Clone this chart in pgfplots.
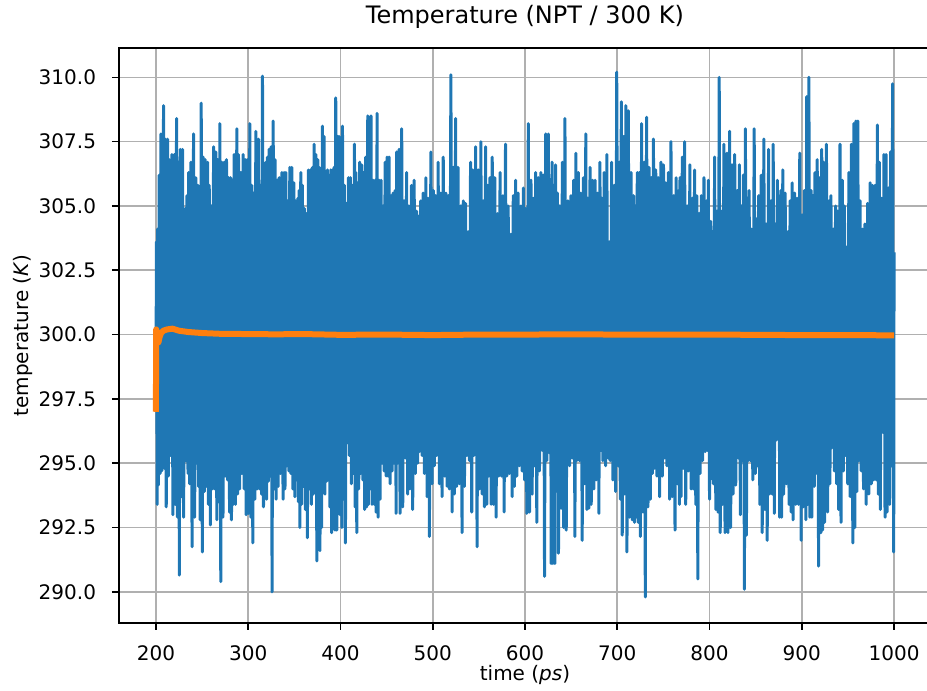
\documentclass[border=0pt]{standalone}
\usepackage{fontspec}
\setmainfont{DejaVu Sans}
\usepackage{pgfplots}
\pgfplotsset{compat=1.18}
\definecolor{mplblue}{HTML}{1F77B4}
\definecolor{mplorange}{HTML}{FF7F0E}
\definecolor{gridgray}{HTML}{B0B0B0}
\begin{document}
\begin{tikzpicture}
\begin{axis}[
  name=ax,
  at={(0,0)}, anchor=south west,
  scale only axis, width=406pt, height=287.35pt,
  xmin=160, xmax=1040, ymin=288.8, ymax=311.14,
  xtick={200,300,400,500,600,700,800,900,1000},
  ytick={290,292.5,295,297.5,300,302.5,305,307.5,310},
  scaled ticks=false,
  /pgf/number format/assume math mode=true,
  xticklabel style={/pgf/number format/1000 sep={}, anchor=base, yshift=-15.3pt, inner sep=0pt},
  yticklabel style={/pgf/number format/fixed, /pgf/number format/fixed zerofill, /pgf/number format/precision=1, anchor=east, xshift=-7.8pt, inner sep=0pt},
  tick align=outside, tick pos=left, major tick length=3.5pt,
  every tick/.style={black, line width=0.8pt},
  axis line style={draw=none},
  grid=major, major grid style={gridgray, line width=0.8pt},
  title={Temperature (NPT / 300 K)},
  title style={at={(axis description cs:0.5,1.0209)}, anchor=base, font=\fontsize{12}{14}\selectfont, inner sep=0pt},
  xlabel={time (\textit{ps})},
  ylabel={temperature (\textit{K})},
  every axis x label/.style={at={(axis description cs:0.5,-0.0997)}, anchor=base, inner sep=0pt},
  every axis y label/.style={at={(axis description cs:-0.1115,0.5)}, rotate=90, anchor=base, inner sep=0pt},
]
\addplot[mplblue, line width=1.5pt, line join=round] table[header=false, x index=0, y index=1, row sep=\\] {
200.0 297.0\\
200.6 303.6\\ 201.4 293.4\\ 201.8 304.1\\ 202.7 294.15\\ 203.6 306.2\\ 204.5 294.6\\ 205.4 307.8\\ 206.4 294.7\\
208.3 308.9\\ 209.3 294.8\\ 210.1 307.6\\ 211.2 293.3\\ 212.6 307.6\\ 213.5 294.5\\ 214.4 306.8\\ 215.8 295.3\\
217.3 307.0\\ 218.4 293.0\\ 219.9 307.0\\ 221.0 293.4\\ 222.4 308.4\\ 223.4 292.9\\ 224.5 306.7\\ 225.4 290.65\\
226.4 307.2\\ 227.6 293.7\\ 228.9 307.2\\ 230.0 292.9\\ 231.8 304.9\\ 232.7 295.1\\ 233.6 305.4\\ 234.8 294.6\\
235.4 306.3\\ 236.6 294.2\\ 237.9 306.7\\ 239.2 291.75\\ 240.8 307.8\\ 242.0 292.9\\ 243.3 306.1\\ 244.3 295.0\\
245.5 305.8\\ 246.2 294.1\\ 246.9 305.7\\ 248.0 292.8\\ 249.1 309.0\\ 250.3 291.55\\ 251.3 306.9\\ 252.4 293.9\\
253.4 306.8\\ 254.7 294.1\\ 256.0 306.7\\ 256.9 293.4\\ 257.8 305.8\\ 259.0 292.6\\ 260.3 305.0\\ 261.4 294.0\\
262.5 307.3\\ 263.7 294.0\\ 265.0 307.1\\ 266.0 292.8\\ 267.1 306.8\\ 268.2 293.5\\ 269.3 308.2\\ 270.3 290.4\\
271.5 306.7\\ 272.7 292.9\\ 274.0 306.7\\ 275.2 294.5\\ 276.5 306.8\\ 277.6 294.35\\ 278.7 306.1\\ 279.8 293.1\\
280.9 306.1\\ 281.9 292.8\\ 283.0 306.0\\ 283.9 293.4\\ 284.8 307.0\\ 286.2 293.4\\ 287.7 308.0\\ 288.6 293.8\\
289.5 307.0\\ 290.8 294.0\\ 292.1 306.3\\ 293.3 294.6\\ 294.6 307.0\\ 295.7 294.0\\ 296.8 306.8\\ 297.8 293.0\\
298.9 306.8\\ 300.3 293.05\\ 301.8 308.2\\ 302.9 292.9\\ 304.0 305.8\\ 305.0 291.9\\ 306.1 305.5\\ 307.2 293.6\\
308.3 307.9\\ 309.7 294.0\\ 311.2 307.6\\ 312.3 294.0\\ 313.4 305.8\\ 314.5 293.8\\ 315.5 310.05\\ 316.6 293.3\\
317.7 304.3\\ 318.4 294.0\\ 319.1 306.7\\ 320.0 293.6\\ 320.9 306.9\\ 321.8 294.3\\ 322.7 307.2\\ 323.8 294.5\\
324.9 307.3\\ 325.9 290.0\\ 327.1 308.3\\ 328.2 294.0\\ 329.2 306.8\\ 330.3 293.6\\ 331.4 306.0\\ 332.5 294.1\\
333.6 306.1\\ 335.0 294.6\\ 336.5 306.3\\ 337.8 293.6\\ 339.0 306.3\\ 339.9 294.0\\ 340.8 306.3\\ 341.9 294.9\\
343.0 305.2\\ 344.1 294.7\\ 345.1 306.5\\ 346.2 294.6\\ 347.3 306.5\\ 348.4 294.0\\ 349.5 305.9\\ 350.6 293.7\\
351.6 305.2\\ 352.7 294.35\\ 353.8 305.3\\ 354.5 293.5\\ 355.2 305.6\\ 356.1 292.5\\ 357.0 306.3\\ 357.9 293.4\\
358.8 305.8\\ 359.9 294.1\\ 361.0 304.9\\ 362.1 293.2\\ 363.2 304.7\\ 364.2 292.1\\ 365.3 306.4\\ 366.4 294.0\\
367.5 306.4\\ 368.6 293.4\\ 369.7 306.5\\ 370.6 293.8\\ 371.5 307.4\\ 372.4 294.6\\ 373.3 307.0\\ 374.4 291.2\\
375.5 306.8\\ 376.2 292.6\\ 376.9 306.5\\ 377.8 291.6\\ 378.7 306.1\\ 379.6 292.5\\ 380.5 308.1\\ 381.4 294.1\\
382.3 307.7\\ 383.2 293.8\\ 384.1 306.3\\ 385.0 294.3\\ 385.9 306.4\\ 386.8 294.6\\ 387.7 305.1\\ 388.6 293.3\\
389.5 306.4\\ 390.4 292.3\\ 391.3 306.4\\ 392.2 293.0\\ 393.1 306.5\\ 394.0 292.4\\ 394.9 309.2\\ 396.0 292.4\\
397.1 307.7\\ 397.9 293.6\\ 398.6 307.7\\ 399.6 293.0\\ 400.7 307.4\\ 401.5 292.5\\ 402.2 308.1\\ 403.2 293.6\\
404.3 305.8\\ 405.4 291.9\\ 406.5 305.1\\ 407.6 295.8\\ 408.7 306.1\\ 409.7 295.3\\ 410.8 306.1\\ 411.9 294.2\\
413.0 305.8\\ 414.1 294.6\\ 415.2 307.4\\ 415.9 293.3\\ 416.6 306.3\\ 417.7 292.3\\ 418.8 305.9\\ 419.8 294.0\\
420.9 306.7\\ 422.0 294.6\\ 423.1 306.6\\ 424.2 294.35\\ 425.3 306.3\\ 426.3 293.2\\ 427.4 306.9\\ 428.5 293.3\\
429.6 308.5\\ 430.3 293.4\\ 431.0 306.9\\ 432.1 294.0\\ 433.2 308.5\\ 434.3 293.4\\ 435.4 306.0\\ 436.5 293.4\\
437.5 306.0\\ 438.6 293.1\\ 439.7 308.6\\ 440.8 292.9\\ 441.9 306.0\\ 443.0 293.6\\ 444.0 306.0\\ 445.1 295.0\\
446.2 305.0\\ 447.3 294.7\\ 448.4 306.7\\ 449.5 294.5\\ 450.5 306.9\\ 451.6 294.5\\ 452.7 306.9\\ 453.8 294.2\\
454.9 305.4\\ 456.0 294.7\\ 457.0 305.5\\ 458.1 295.0\\ 459.2 305.6\\ 460.3 293.05\\
461.0 307.1\\ 462.0 295.0\\ 463.6 307.2\\ 464.6 293.05\\ 466.4 308.0\\ 467.5 293.3\\ 469.0 305.2\\ 470.3 295.2\\
471.7 306.3\\ 472.9 293.8\\ 474.2 305.0\\ 475.4 294.0\\ 476.9 305.8\\ 478.3 293.2\\ 479.9 306.0\\ 481.2 294.6\\
482.5 304.8\\ 483.7 295.0\\ 484.6 304.6\\ 485.5 295.45\\ 487.0 305.2\\ 488.4 295.3\\ 489.6 305.5\\ 491.0 294.6\\
492.6 306.1\\ 493.9 293.7\\ 495.1 305.3\\ 496.4 292.15\\ 498.0 307.1\\ 499.3 294.2\\ 500.6 305.6\\ 501.8 294.9\\
503.0 305.4\\ 504.3 295.3\\ 505.9 306.7\\ 507.2 294.2\\ 508.7 305.5\\ 510.1 293.7\\ 511.4 306.9\\ 513.0 294.5\\
514.3 305.5\\ 515.6 294.1\\ 516.8 305.4\\ 518.1 294.0\\ 519.7 310.1\\ 521.0 293.1\\ 522.2 306.5\\ 523.5 293.8\\
524.8 308.4\\ 526.0 294.1\\ 527.5 306.5\\ 528.9 294.2\\ 530.4 305.0\\ 531.8 292.3\\ 533.1 305.2\\ 534.4 294.1\\
535.6 305.1\\ 536.9 295.3\\ 538.4 304.0\\ 539.8 295.1\\ 541.0 306.7\\ 542.3 293.1\\ 543.3 306.4\\ 544.6 295.3\\
546.5 307.3\\ 548.1 291.75\\ 549.3 306.4\\ 550.6 294.0\\ 552.2 307.5\\ 553.5 293.8\\ 554.8 305.2\\ 556.1 293.3\\
557.3 307.3\\ 558.6 293.4\\ 559.7 305.8\\ 560.8 294.5\\ 562.0 306.1\\ 563.3 293.4\\ 564.5 306.9\\ 565.8 293.4\\
567.3 306.1\\ 568.7 292.9\\ 570.2 304.7\\ 571.6 294.5\\ 573.0 306.3\\ 574.5 294.5\\ 576.0 305.4\\ 577.4 293.1\\
578.9 307.4\\ 580.3 294.5\\ 581.8 305.0\\ 583.2 294.6\\ 584.7 303.9\\ 586.1 293.7\\ 587.3 305.4\\ 588.6 294.1\\
589.8 306.0\\ 591.1 294.5\\ 592.6 305.5\\ 594.0 294.9\\ 595.5 305.0\\ 596.9 294.7\\ 598.2 305.7\\ 599.5 294.35\\
600.7 304.9\\ 602.0 293.05\\ 603.6 308.2\\ 604.9 293.1\\ 606.5 306.0\\ 607.8 293.8\\ 609.0 305.3\\ 610.3 294.9\\
611.5 306.3\\ 612.8 292.7\\ 614.4 306.1\\ 615.7 294.7\\ 617.3 306.3\\ 618.6 295.5\\ 619.9 306.2\\ 621.2 290.6\\
622.5 307.8\\ 623.7 295.1\\ 625.3 307.8\\ 626.6 295.4\\ 627.5 305.6\\ 628.4 291.1\\ 629.3 306.7\\ 630.2 291.1\\
631.3 305.2\\ 632.4 291.1\\ 633.1 306.6\\ 634.2 295.5\\ 635.2 305.5\\ 636.3 291.5\\ 637.8 305.0\\ 639.2 293.25\\
640.5 306.7\\ 641.8 292.5\\ 643.3 308.4\\ 644.7 292.4\\ 646.5 305.2\\ 648.3 294.9\\ 649.8 305.4\\ 651.2 295.2\\
652.7 306.0\\ 654.1 292.15\\ 655.2 307.05\\ 656.2 295.1\\ 657.8 306.3\\ 659.1 295.1\\ 660.5 305.5\\ 662.0 292.0\\
663.3 306.1\\ 664.6 294.2\\ 665.9 307.8\\ 667.1 293.2\\ 668.2 305.3\\ 669.3 293.25\\ 670.5 306.5\\ 671.8 293.4\\
673.3 306.0\\ 674.7 294.0\\ 676.0 306.0\\ 677.2 294.35\\ 678.6 305.5\\ 680.1 293.05\\ 681.2 306.7\\ 682.3 295.5\\
683.4 305.3\\ 684.4 295.1\\ 685.8 306.3\\ 687.3 294.9\\ 688.7 307.0\\ 690.2 295.2\\ 691.3 303.6\\ 692.4 295.1\\
693.9 306.7\\ 695.3 294.35\\ 696.8 305.8\\ 698.2 293.9\\ 699.4 310.2\\ 701.1 294.9\\ 702.2 306.7\\ 703.3 293.6\\
704.4 309.05\\ 705.4 292.2\\ 706.7 307.7\\ 708.0 293.8\\ 709.3 308.9\\ 710.5 291.55\\ 712.0 308.7\\ 713.4 292.9\\
714.9 306.3\\ 716.3 292.8\\ 717.6 305.4\\ 718.8 292.7\\ 719.7 305.0\\ 720.6 292.9\\ 721.7 306.3\\ 722.8 292.7\\
723.9 306.3\\ 725.0 292.15\\ 726.4 308.2\\ 727.8 293.1\\ 729.1 306.7\\ 730.4 289.8\\ 731.8 308.45\\ 733.3 293.3\\
734.5 306.5\\ 735.8 293.6\\ 736.9 306.1\\ 738.0 294.6\\ 739.2 307.6\\ 740.5 294.8\\ 741.7 306.4\\ 743.0 294.5\\
744.5 306.1\\ 745.9 293.7\\ 747.4 306.7\\ 748.8 294.5\\ 750.1 306.6\\ 751.4 295.2\\ 752.6 305.9\\ 753.9 294.9\\
755.4 306.3\\ 756.8 293.6\\ 758.2 307.5\\ 759.7 293.7\\ 761.2 305.4\\ 762.6 292.4\\ 763.8 306.1\\ 765.1 294.2\\
766.4 305.6\\ 767.4 293.4\\
768.0 306.1\\ 769.1 293.7\\ 770.5 306.9\\ 771.6 294.8\\ 773.0 307.5\\ 774.2 293.4\\ 775.8 305.0\\ 777.1 294.7\\
778.7 306.6\\ 780.0 294.0\\ 781.3 305.3\\ 782.5 294.0\\ 783.8 306.4\\ 785.1 293.4\\ 786.3 305.4\\ 787.3 290.5\\
788.6 304.7\\ 789.8 294.6\\ 791.1 305.4\\ 792.4 295.1\\ 794.0 306.1\\ 795.3 295.45\\ 796.9 305.2\\ 797.8 295.5\\
798.7 306.0\\ 800.0 293.6\\ 801.3 304.4\\ 802.5 294.4\\ 803.3 304.0\\ 804.3 294.2\\ 805.5 306.9\\ 806.8 293.2\\
808.0 304.8\\ 809.2 293.1\\ 810.5 310.0\\ 811.6 292.3\\ 812.7 304.8\\ 814.0 293.4\\ 815.6 307.4\\ 816.8 292.3\\
818.9 307.05\\ 820.0 292.3\\ 821.8 307.9\\ 822.9 292.5\\ 824.4 306.6\\ 825.5 293.8\\ 827.3 307.0\\ 828.4 294.15\\
830.2 305.6\\ 831.3 295.2\\ 832.3 306.6\\ 833.4 293.0\\ 834.4 305.0\\ 835.5 295.1\\ 836.7 306.2\\ 837.8 290.1\\
838.9 308.0\\ 840.0 292.2\\ 841.0 305.3\\ 841.9 295.1\\ 842.9 305.6\\ 844.4 295.1\\ 845.5 304.1\\ 846.9 294.35\\
848.4 308.0\\ 849.8 294.6\\ 850.9 304.5\\ 852.0 294.9\\ 853.3 305.4\\ 854.5 293.4\\ 856.0 306.2\\ 857.1 292.3\\
858.9 307.6\\ 860.0 293.2\\ 861.3 304.3\\ 862.5 292.0\\ 864.0 307.2\\ 865.1 293.8\\ 866.8 305.2\\ 868.0 293.8\\
869.0 307.4\\ 870.2 293.05\\ 871.3 304.3\\ 872.4 295.9\\ 873.5 306.0\\ 874.5 296.1\\ 875.2 305.0\\ 876.0 292.9\\
877.2 305.6\\ 878.2 292.9\\ 879.4 306.4\\ 880.4 293.8\\ 882.0 305.5\\ 883.3 294.2\\ 885.0 304.0\\ 886.2 293.4\\
887.3 305.2\\ 888.4 293.1\\ 889.6 305.9\\ 890.5 292.8\\ 892.2 305.5\\ 893.5 293.4\\ 895.0 305.3\\ 896.4 293.4\\
897.8 307.05\\ 899.3 292.0\\ 900.3 304.65\\ 901.5 293.3\\ 902.8 305.6\\ 904.4 292.8\\ 905.3 309.25\\ 906.5 293.4\\
907.7 310.0\\ 908.7 292.9\\ 910.0 305.6\\ 910.9 292.9\\ 912.2 305.4\\ 913.5 294.1\\ 914.3 306.3\\ 915.3 294.6\\
916.7 306.8\\ 918.2 291.0\\ 919.3 306.1\\ 920.7 292.3\\ 921.6 307.2\\ 922.5 292.4\\ 923.6 306.7\\ 924.7 292.7\\
926.7 307.4\\ 928.0 293.1\\ 929.5 305.2\\ 930.5 294.2\\ 931.6 305.4\\ 932.7 295.6\\ 934.1 304.1\\ 935.3 294.7\\
936.6 305.0\\ 937.8 294.2\\ 938.9 304.8\\ 940.0 293.2\\ 941.4 307.4\\ 942.5 292.7\\ 944.0 306.0\\ 945.1 294.7\\
946.2 305.0\\ 947.3 295.3\\ 948.5 303.4\\ 949.8 294.2\\ 951.0 306.3\\ 952.4 293.7\\ 953.8 307.4\\ 955.3 291.9\\
956.4 308.2\\ 957.5 292.5\\ 958.6 308.3\\ 959.6 293.9\\ 960.7 308.3\\ 961.8 295.1\\ 963.2 305.2\\ 964.4 294.7\\
965.7 304.1\\ 966.9 294.0\\ 968.4 304.3\\ 969.8 293.4\\ 971.3 305.1\\ 972.7 293.8\\ 974.1 305.9\\ 975.3 294.2\\
976.6 305.8\\ 977.8 294.35\\ 979.3 305.8\\ 980.7 294.35\\ 981.9 308.15\\ 982.9 293.8\\ 984.1 306.7\\ 985.1 293.2\\
986.6 305.3\\ 988.0 296.2\\ 989.0 307.0\\ 990.2 292.9\\ 991.3 307.0\\ 992.4 293.1\\ 993.8 305.7\\ 995.3 293.4\\
996.2 307.1\\ 997.5 294.9\\ 998.4 309.75\\ 999.6 291.55\\ 1000.0 303.2\\
};
\addplot[mplorange, line width=3pt, line join=round] coordinates {
(200.0,297.0) (200.3,300.2) (201.0,300.1) (202.0,299.8) (202.8,299.7) (204.0,299.9) (205.5,300.05)
(208,300.15) (212,300.2) (218,300.23) (225,300.15) (235,300.1) (250,300.06) (270,300.03)
(300,300.02) (330,300.01) (360,300.02) (400,299.99) (450,300.0) (500,299.98) (550,300.0)
(600,300.0) (650,300.01) (700,300.0) (750,300.0) (800,300.0) (850,299.99) (900,299.98)
(950,299.98) (1000,299.97)
};
\end{axis}
\draw[black, line width=0.8pt, line cap=rect] (ax.south east) -- (ax.south west) -- (ax.north west) -- (ax.north east);
\pgfresetboundingbox
\useasboundingbox (-59.5pt,-34.15pt) rectangle (404pt,311.35pt);
\end{tikzpicture}
\end{document}
